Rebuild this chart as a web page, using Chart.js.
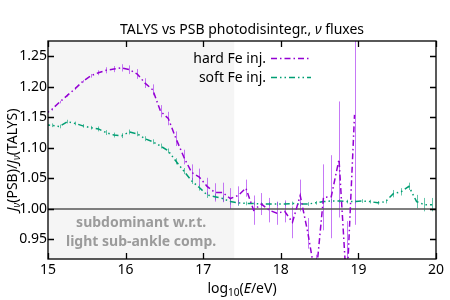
<!DOCTYPE html>
<html>
<head>
<meta charset="utf-8">
<script src="https://cdn.jsdelivr.net/npm/chart.js@4"></script>
<style>
  html, body { margin: 0; padding: 0; background: #fff; }
  canvas { display: block; }
</style>
</head>
<body>
<canvas id="chart" width="450" height="300"></canvas>
<script>
// hard Fe injection (purple), bin centres in log10(E/eV)
const hardLogE = [14.95, 15.05, 15.15, 15.25, 15.35, 15.45, 15.55, 15.65, 15.75, 15.85,
  15.95, 16.05, 16.15, 16.25, 16.35, 16.45, 16.55, 16.65, 16.75, 16.85,
  16.95, 17.05, 17.15, 17.25, 17.35, 17.45, 17.55, 17.65, 17.75, 17.85,
  17.95, 18.05, 18.15, 18.25, 18.35, 18.45, 18.55, 18.65, 18.75, 18.85, 18.95];
const hardRatio = [1.154, 1.163, 1.175, 1.186, 1.197, 1.209, 1.218, 1.223, 1.227, 1.229,
  1.231, 1.228, 1.221, 1.206, 1.195, 1.160, 1.148, 1.115, 1.085, 1.060,
  1.052, 1.037, 1.027, 1.027, 1.017, 1.022, 1.034, 0.998, 1.008, 0.998,
  0.993, 0.996, 0.978, 1.022, 0.960, 0.885, 1.019, 1.020, 1.081, 0.870, 1.154];
const hardErr = [0.002, 0.002, 0.002, 0.002, 0.002, 0.002, 0.003, 0.004, 0.005, 0.005,
  0.006, 0.007, 0.008, 0.008, 0.009, 0.010, 0.011, 0.012, 0.012, 0.013,
  0.014, 0.014, 0.015, 0.016, 0.017, 0.015, 0.014, 0.024, 0.018, 0.020,
  0.019, 0.018, 0.026, 0.026, 0.025, 0.040, 0.054, 0.068, 0.095, 0.110, 0.180];

// soft Fe injection (green)
const softLogE = [14.95, 15.05, 15.15, 15.25, 15.35, 15.45, 15.55, 15.65, 15.75, 15.85,
  15.95, 16.05, 16.15, 16.25, 16.35, 16.45, 16.55, 16.65, 16.75, 16.85,
  16.95, 17.05, 17.15, 17.25, 17.35, 17.45, 17.55, 17.65, 17.75, 17.85,
  17.95, 18.05, 18.15, 18.25, 18.35, 18.45, 18.55, 18.65, 18.75, 18.85,
  18.95, 19.05, 19.15, 19.25, 19.35, 19.45, 19.55, 19.65, 19.75, 19.85, 19.95];
const softRatio = [1.138, 1.137, 1.135, 1.143, 1.140, 1.136, 1.133, 1.131, 1.125, 1.121,
  1.120, 1.126, 1.123, 1.115, 1.110, 1.103, 1.095, 1.078, 1.062, 1.046,
  1.035, 1.023, 1.020, 1.017, 1.012, 1.010, 1.009, 1.009, 1.008, 1.008,
  1.008, 1.008, 1.009, 1.008, 1.008, 1.010, 1.012, 1.013, 1.013, 1.012,
  1.012, 1.013, 1.012, 1.010, 1.012, 1.025, 1.028, 1.037, 1.012, 1.007, 1.007];
const softErr = [0.003, 0.003, 0.003, 0.003, 0.003, 0.003, 0.003, 0.004, 0.004, 0.004,
  0.004, 0.004, 0.004, 0.004, 0.004, 0.004, 0.004, 0.005, 0.005, 0.005,
  0.005, 0.005, 0.005, 0.005, 0.005, 0.005, 0.003, 0.003, 0.003, 0.003,
  0.003, 0.003, 0.003, 0.003, 0.003, 0.003, 0.003, 0.003, 0.003, 0.003,
  0.003, 0.003, 0.003, 0.003, 0.003, 0.006, 0.006, 0.006, 0.011, 0.011, 0.011];

const xTicks = [15, 16, 17, 18, 19, 20];
const yTicks = [0.95, 1.00, 1.05, 1.10, 1.15, 1.20, 1.25];
const seriesNames = ["hard Fe inj.", "soft Fe inj."];
const shadeUpTo = 17.4;
const noteLines = ["subdominant w.r.t.", "light sub-ankle comp."];

const FONT = "'Noto Sans', 'Open Sans', sans-serif";
const PURPLE = "#9400d3";
const GREEN = "#009e73";
const DASH_HARD = [6, 3, 1.5, 3];
const DASH_SOFT = [6, 3, 1.5, 3, 1.5, 3];

const toPoints = (xs, ys) => xs.map((x, i) => ({ x: x, y: ys[i] }));

// draws a run of text pieces (italic / subscript) starting at x
function drawRich(ctx, parts, x, y, align) {
  const fontFor = (p) =>
    `${p.italic ? "italic " : ""}${p.sub ? 10 : 14}px ${FONT}`;
  let total = 0;
  parts.forEach((p) => {
    ctx.font = fontFor(p);
    total += ctx.measureText(p.t).width;
  });
  let cx = align === "center" ? x - total / 2 : x;
  ctx.textAlign = "left";
  ctx.textBaseline = "alphabetic";
  parts.forEach((p) => {
    ctx.font = fontFor(p);
    ctx.fillText(p.t, cx, p.sub ? y + 3 : y);
    cx += ctx.measureText(p.t).width;
  });
}

const backdropPlugin = {
  id: "backdrop",
  beforeDatasetsDraw(chart) {
    const { ctx, chartArea: a, scales } = chart;
    const xs = scales.x;
    const ys = scales.y;
    ctx.save();
    ctx.fillStyle = "#f5f5f5";
    const xe = xs.getPixelForValue(shadeUpTo);
    ctx.fillRect(a.left, a.top, xe - a.left, a.bottom - a.top);

    ctx.fillStyle = "#9b9b9b";
    ctx.font = `bold 14px ${FONT}`;
    ctx.textAlign = "center";
    ctx.textBaseline = "middle";
    const cx = (a.left + xe) / 2;
    ctx.fillText(noteLines[0], cx, 223);
    ctx.fillText(noteLines[1], cx, 242);

    // error bars
    ctx.beginPath();
    ctx.rect(a.left, a.top, a.right - a.left, a.bottom - a.top);
    ctx.clip();
    ctx.lineWidth = 1;
    const bars = (xv, yv, ev, color) => {
      ctx.strokeStyle = color;
      ctx.beginPath();
      xv.forEach((x, i) => {
        const px = Math.round(xs.getPixelForValue(x)) + 0.5;
        ctx.moveTo(px, ys.getPixelForValue(yv[i] - ev[i]));
        ctx.lineTo(px, ys.getPixelForValue(yv[i] + ev[i]));
      });
      ctx.stroke();
    };
    bars(softLogE, softRatio, softErr, "rgba(0,158,115,0.6)");
    bars(hardLogE, hardRatio, hardErr, "rgba(160,32,240,0.6)");
    ctx.restore();
  },
  afterDraw(chart) {
    const { ctx, chartArea: a, scales } = chart;
    const xs = scales.x;
    const ys = scales.y;
    ctx.save();
    ctx.strokeStyle = "#000";
    ctx.lineWidth = 1.3;
    ctx.strokeRect(a.left, a.top, a.right - a.left, a.bottom - a.top);

    // inward ticks on all four sides
    ctx.beginPath();
    xTicks.forEach((t) => {
      const px = Math.round(xs.getPixelForValue(t)) + 0.5;
      ctx.moveTo(px, a.bottom);
      ctx.lineTo(px, a.bottom - 6);
      ctx.moveTo(px, a.top);
      ctx.lineTo(px, a.top + 6);
    });
    yTicks.forEach((t) => {
      const py = Math.round(ys.getPixelForValue(t)) + 0.5;
      ctx.moveTo(a.left, py);
      ctx.lineTo(a.left + 6, py);
      ctx.moveTo(a.right, py);
      ctx.lineTo(a.right - 6, py);
    });
    ctx.stroke();

    ctx.fillStyle = "#000";
    ctx.font = `14px ${FONT}`;
    ctx.textBaseline = "middle";
    ctx.textAlign = "right";
    yTicks.forEach((t) => {
      ctx.fillText(t.toFixed(2), a.left - 1, ys.getPixelForValue(t));
    });
    ctx.textAlign = "center";
    xTicks.forEach((t) => {
      ctx.fillText(String(t), xs.getPixelForValue(t), a.bottom + 11);
    });

    // title and axis labels
    const midX = (a.left + a.right) / 2;
    drawRich(ctx, [{ t: "TALYS vs PSB photodisintegr., " }, { t: "ν", italic: true }, { t: " fluxes" }], midX, 34, "center");
    drawRich(ctx, [{ t: "log" }, { t: "10", sub: true }, { t: "(" }, { t: "E", italic: true }, { t: "/eV)" }], midX, 293, "center");
    ctx.save();
    ctx.translate(17, 160);
    ctx.rotate(-Math.PI / 2);
    drawRich(ctx, [
      { t: "J", italic: true }, { t: "ν", italic: true, sub: true }, { t: "(PSB)/" },
      { t: "J", italic: true }, { t: "ν", italic: true, sub: true }, { t: "(TALYS)" },
    ], 0, 0, "center");
    ctx.restore();

    // key, text right-aligned with a line sample after it
    const keys = [
      { name: seriesNames[0], color: PURPLE, dash: DASH_HARD, y: 63 },
      { name: seriesNames[1], color: GREEN, dash: DASH_SOFT, y: 82 },
    ];
    ctx.font = `14px ${FONT}`;
    ctx.textAlign = "right";
    ctx.textBaseline = "alphabetic";
    keys.forEach((k) => {
      ctx.fillStyle = "#000";
      ctx.fillText(k.name, 266, k.y);
      ctx.strokeStyle = k.color;
      ctx.lineWidth = 1.5;
      ctx.setLineDash(k.dash);
      ctx.beginPath();
      ctx.moveTo(271, k.y - 4.5);
      ctx.lineTo(311, k.y - 4.5);
      ctx.stroke();
      ctx.setLineDash([]);
    });
    ctx.restore();
  },
};

new Chart(document.getElementById("chart"), {
  type: "scatter",
  data: {
    datasets: [
      {
        label: "unity",
        data: [{ x: 15, y: 1 }, { x: 20, y: 1 }],
        showLine: true,
        borderColor: "#555555",
        borderWidth: 1.6,
        pointRadius: 0,
        order: 3,
      },
      {
        label: seriesNames[1],
        data: toPoints(softLogE, softRatio),
        showLine: true,
        borderColor: GREEN,
        borderWidth: 1.5,
        borderDash: DASH_SOFT,
        pointRadius: 0,
        order: 2,
      },
      {
        label: seriesNames[0],
        data: toPoints(hardLogE, hardRatio),
        showLine: true,
        borderColor: PURPLE,
        borderWidth: 1.5,
        borderDash: DASH_HARD,
        pointRadius: 0,
        order: 1,
      },
    ],
  },
  options: {
    responsive: false,
    animation: false,
    devicePixelRatio: 1,
    layout: { padding: { left: 48, right: 14, top: 41, bottom: 41 } },
    plugins: { legend: { display: false }, title: { display: false }, tooltip: { enabled: false } },
    scales: {
      x: { type: "linear", min: 15, max: 20, display: false },
      y: { type: "linear", min: 0.918, max: 1.275, display: false },
    },
  },
  plugins: [backdropPlugin],
});
</script>
</body>
</html>
